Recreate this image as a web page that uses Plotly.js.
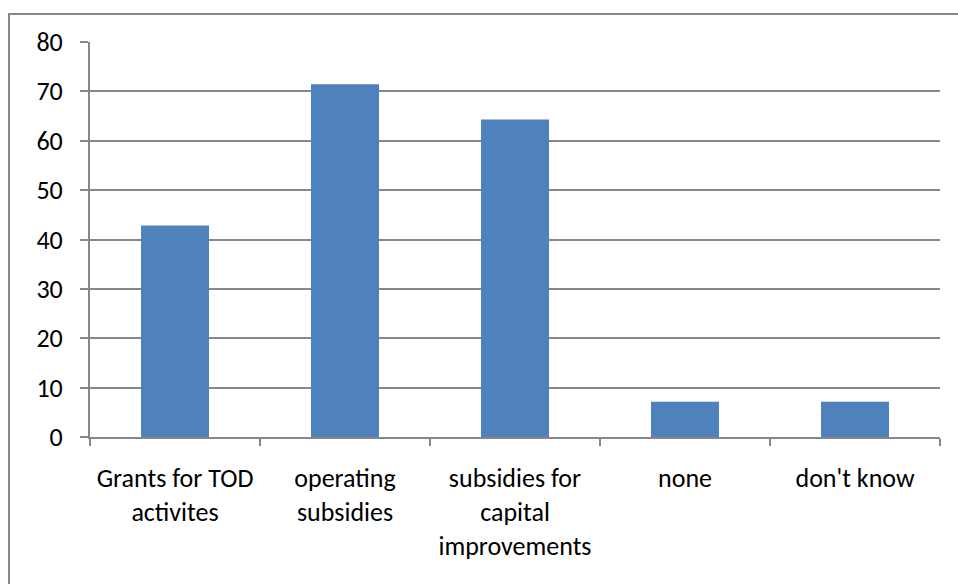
<!DOCTYPE html>
<html>
<head>
<meta charset="utf-8">
<script src="https://cdn.plot.ly/plotly-3.0.1.min.js"></script>
<style>
  html, body { margin: 0; padding: 0; background: #fff; }
  #chart { width: 958px; height: 584px; position: absolute; left: 0; top: 0; }
  #frame { position: absolute; left: 8px; top: 13px; width: 960px; height: 580px;
           border-left: 2px solid #878787; border-top: 2px solid #878787; pointer-events: none; }
</style>
</head>
<body>
<div id="chart"></div>
<div id="frame"></div>
<script>
const categories = ["Grants for TOD<br>activites", "operating<br>subsidies", "subsidies for<br>capital<br>improvements", "none", "don't know"];
const values = [42.86, 71.43, 64.29, 7.14, 7.14];
const yTicks = [0, 10, 20, 30, 40, 50, 60, 70, 80];

const fam = "Carlito, Lato, 'Open Sans', sans-serif";

Plotly.newPlot("chart", [{
  type: "bar",
  x: categories,
  y: values,
  width: 0.4,
  marker: { color: "#4F81BD" },
  hoverinfo: "none"
}], {
  width: 958, height: 584,
  margin: { l: 90, r: 18, t: 42, b: 147 },
  paper_bgcolor: "#fff", plot_bgcolor: "#fff",
  showlegend: false,
  font: { family: fam, size: 22, color: "#000" },
  xaxis: {
    type: "category",
    tickson: "boundaries",
    ticks: "outside", ticklen: 7, tickwidth: 2, tickcolor: "#878787",
    showline: true, linecolor: "#878787", linewidth: 2,
    showgrid: false, zeroline: false,
    ticklabelstandoff: 17,
    tickfont: { family: fam, size: 26, color: "#000" }
  },
  yaxis: {
    range: [0, 80],
    tickvals: yTicks,
    ticks: "outside", ticklen: 8, tickwidth: 2, tickcolor: "#878787",
    showline: true, linecolor: "#878787", linewidth: 2,
    showgrid: true, gridcolor: "#878787", gridwidth: 2,
    zeroline: false,
    ticklabelstandoff: 12,
    tickfont: { family: fam, size: 26, color: "#000" }
  }
}, { staticPlot: true });
</script>
</body>
</html>
